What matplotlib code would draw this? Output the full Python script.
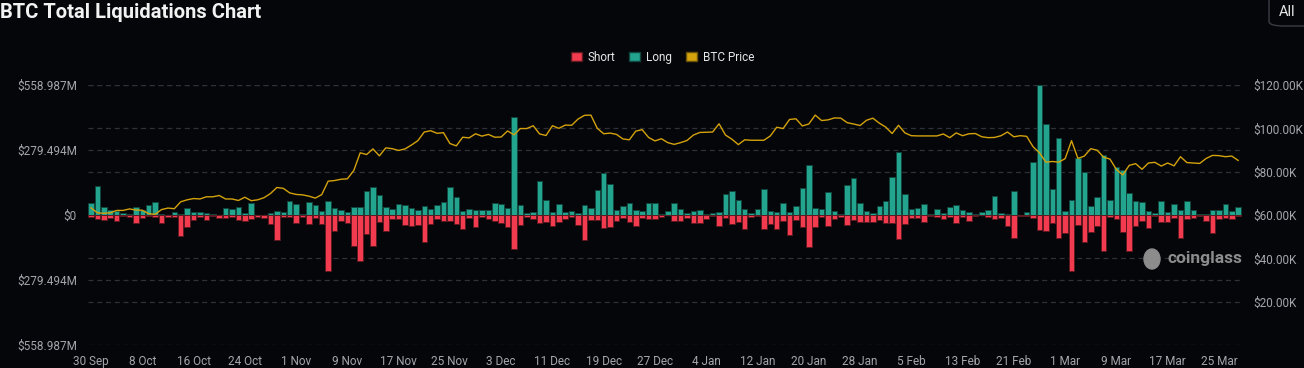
import numpy as np
import pandas as pd
import matplotlib.pyplot as plt
from matplotlib.patches import Patch, FancyBboxPatch, Ellipse

plt.rcParams['font.family'] = ['Roboto', 'DejaVu Sans']

# daily data, 30 Sep 2024 .. 28 Mar 2025
dates = pd.date_range('2024-09-30', periods=180, freq='D')

# long liquidations ($M)
long_liq = [
    53.0, 124.7, 35.8, 21.5, 17.2, 7.2, 2.9, 35.8, 21.5, 41.6,
    55.9, 2.9, 1.0, 14.3, 2.9, 28.7, 11.5, 14.3, 7.2, 2.9,
    1.4, 28.7, 24.4, 33.0, 10.0, 50.2, 1.0, 1.0, 7.2, 18.6,
    14.3, 61.6, 47.3, 5.7, 55.9, 43.0, 18.6, 61.6, 30.1, 21.5,
    12.9, 35.8, 35.8, 103.2, 120.4, 86.0, 33.0, 24.4, 45.9, 41.6,
    30.1, 21.5, 38.7, 27.2, 41.6, 54.5, 119.0, 76.0, 15.8, 24.4,
    20.1, 20.1, 20.1, 50.2, 47.3, 30.1, 420.0, 44.4, 7.2, 12.9,
    144.8, 63.1, 12.9, 45.9, 14.3, 15.8, 7.2, 44.4, 30.1, 107.5,
    182.0, 134.7, 22.9, 40.1, 50.2, 21.5, 17.2, 50.2, 50.2, 4.3,
    18.6, 51.6, 24.4, 10.0, 17.2, 20.1, 4.3, 7.2, 11.5, 88.9,
    104.6, 63.1, 24.4, 7.2, 24.4, 110.4, 17.2, 12.9, 53.0, 14.3,
    38.7, 116.1, 215.0, 28.7, 24.4, 100.3, 18.6, 4.3, 127.6, 160.5,
    50.2, 15.8, 10.0, 40.1, 61.6, 163.4, 270.9, 88.9, 24.4, 28.7,
    45.9, 4.3, 24.4, 7.2, 33.0, 41.6, 20.1, 12.9, 2.9, 12.9,
    21.5, 81.7, 10.0, 4.3, 101.8, 1.4, 11.5, 227.9, 558.987, 391.3,
    111.8, 329.7, 18.6, 64.5, 243.7, 184.9, 38.7, 77.4, 256.6, 64.5,
    205.0, 192.1, 94.6, 60.2, 55.9, 17.2, 7.2, 60.2, 12.9, 47.3,
    20.1, 58.8, 21.5, 4.3, 2.9, 21.5, 21.5, 45.9, 17.2, 35.8,
]

# short liquidations ($M)
short_liq = [
    7.2, 17.2, 21.5, 11.5, 25.8, 2.9, 10.0, 35.8, 11.5, 2.9,
    10.0, 35.8, 8.6, 7.2, 88.9, 50.2, 20.1, 10.0, 21.5, 4.3,
    12.9, 11.5, 10.0, 21.5, 25.8, 18.6, 7.2, 11.5, 38.7, 107.5,
    7.2, 7.2, 33.0, 7.2, 37.3, 12.9, 37.3, 240.8, 70.2, 24.4,
    33.0, 131.9, 196.4, 83.1, 131.9, 30.1, 67.4, 17.2, 17.2, 41.6,
    45.9, 44.4, 114.7, 38.7, 17.2, 24.4, 27.2, 37.3, 61.6, 12.9,
    51.6, 8.6, 18.6, 27.2, 35.8, 50.2, 146.2, 43.0, 7.2, 15.8,
    33.0, 28.7, 45.9, 28.7, 18.6, 10.0, 44.4, 108.9, 22.9, 22.9,
    57.3, 51.6, 25.8, 11.5, 28.7, 47.3, 12.9, 15.8, 18.6, 7.2,
    1.4, 25.8, 24.4, 11.5, 33.0, 33.0, 17.2, 4.3, 47.3, 12.9,
    37.3, 31.5, 58.8, 10.0, 4.3, 58.8, 38.7, 61.6, 24.4, 84.6,
    20.1, 50.2, 139.0, 51.6, 10.0, 48.7, 17.2, 7.2, 41.6, 21.5,
    30.1, 31.5, 30.1, 20.1, 33.0, 33.0, 101.8, 37.3, 12.9, 14.3,
    30.1, 4.3, 8.6, 17.2, 10.0, 34.4, 10.0, 27.2, 2.9, 1.4,
    7.2, 15.8, 12.9, 45.9, 97.5, 5.7, 4.3, 11.5, 65.9, 67.4,
    34.4, 100.3, 76.0, 240.8, 43.0, 114.7, 71.7, 47.3, 154.8, 7.2,
    17.2, 71.7, 154.8, 45.9, 24.4, 57.3, 4.3, 30.1, 31.5, 11.5,
    97.5, 18.6, 11.5, 2.9, 27.2, 76.0, 17.2, 14.3, 15.8, 4.3,
]

# BTC price ($K)
btc_price = [
    63.3,
    61.0, 60.8, 61.0, 62.1, 62.1, 62.8, 62.3, 62.2, 60.6, 60.3,
    62.5, 63.2, 62.9, 66.1, 67.0, 67.6, 67.4, 68.4, 68.4, 69.0,
    67.4, 67.4, 66.7, 68.2, 66.6, 67.0, 68.0, 69.9, 72.7, 72.3, 70.2,
    69.5, 69.3, 68.7, 67.8, 69.4, 75.6, 75.9, 76.5, 76.7, 80.5,
    88.7, 87.9, 90.5, 87.3, 91.0, 90.6, 89.8, 90.5, 92.3, 94.3,
    98.3, 98.9, 97.7, 98.0, 93.0, 91.9, 95.9, 95.6, 97.5, 96.4,
    97.2, 95.9, 96.0, 98.8, 97.0, 99.9, 99.9, 101.2, 97.4, 96.7,
    101.2, 100.0, 101.5, 101.4, 104.3, 106.0, 106.1, 100.0, 97.5, 97.8,
    97.2, 95.1, 94.7, 98.7, 99.4, 95.8, 94.2, 95.2, 93.4, 92.6, 93.4,
    94.4, 96.9, 98.1, 98.2, 98.3, 102.1, 96.9, 95.0, 92.5, 94.7,
    94.5, 94.5, 94.5, 96.5, 100.5, 99.9, 104.1, 104.4, 101.1, 102.0,
    106.1, 103.6, 103.9, 104.8, 104.7, 102.6, 102.0, 101.3, 103.7, 104.7, 102.4,
    100.6, 97.6, 101.4, 97.9, 96.6, 96.5, 96.5, 96.5, 96.5, 97.4,
    95.7, 97.9, 96.6, 97.5, 97.6, 96.1, 95.7, 95.8, 96.6, 98.3,
    96.1, 96.6, 96.3, 91.5, 88.7, 84.4, 84.7, 84.4,
    86.0, 94.3, 86.1, 87.2, 90.6, 89.9, 86.7, 85.8, 81.0, 78.5,
    82.9, 83.7, 81.1, 84.0, 84.3, 82.6, 84.0, 82.7, 86.9, 84.2,
    84.0, 83.8, 86.1, 87.5, 87.4, 86.9, 87.2, 85.2,
]

left_ticks = [-558.987, -279.494, 0, 279.494, 558.987]
right_ticks = [20, 40, 60, 80, 100, 120]

bg = '#05060a'
teal = '#22a48f'
red = '#f23b4f'
gold = '#d4a20c'
grid_c = '#2e3138'
lab_c = '#a3a6ab'

fig = plt.figure(figsize=(13.04, 3.68), dpi=100, facecolor=bg)
ax = fig.add_axes([88/1304, 23/368, 1154/1304, 260/368])
ax.set_facecolor(bg)

x = np.arange(len(dates))
ax.bar(x, long_liq, width=0.86, color=teal, edgecolor='#11463f', linewidth=0.7, zorder=3)
ax.bar(x, -np.array(short_liq), width=0.86, color=red, edgecolor='#5e1820', linewidth=0.7, zorder=3)

ax.set_xlim(-0.47, 179.6)
ax.set_ylim(-558.987, 558.987)

# gridlines for both axes, drawn under the bars
for v in left_ticks:
    ax.axhline(v, color=grid_c, lw=0.9, ls=(0, (4, 3)), zorder=1)
for v in right_ticks:
    ax.axhline(v / 120 * 2 * 558.987 - 558.987, color=grid_c, lw=0.9, ls=(0, (4, 3)), zorder=1)

ax.set_yticks(left_ticks)
ax.set_yticklabels(['$558.987M', '$279.494M', '$0', '$279.494M', '$558.987M'])
ax.set_xticks(x[::8])
ax.set_xticklabels([f"{d.day} {d.strftime('%b')}" for d in dates[::8]])
ax.tick_params(length=0, colors=lab_c, labelsize=8.5)
ax.tick_params(axis='y', pad=8)
ax.tick_params(axis='x', pad=7)
for s in ax.spines.values():
    s.set_visible(False)

ax2 = ax.twinx()
ax2.plot(x, btc_price, color=gold, lw=1.0, zorder=4)
ax2.set_ylim(0, 120)
ax2.set_yticks(right_ticks)
ax2.set_yticklabels([f'${v:.2f}K' for v in right_ticks])
ax2.tick_params(length=0, colors=lab_c, labelsize=8.5, pad=8)
for s in ax2.spines.values():
    s.set_visible(False)

# title
fig.text(0.0, 1 - 12/368, 'BTC Total Liquidations Chart', color='#f2f2f2',
         fontsize=14.5, fontweight='bold', va='center', ha='left')

# legend
handles = [Patch(facecolor=red, edgecolor='#5e1820', label='Short'),
           Patch(facecolor=teal, edgecolor='#11463f', label='Long'),
           Patch(facecolor=gold, edgecolor='#6b520a', label='BTC Price')]
leg = fig.legend(handles=handles, loc='center', bbox_to_anchor=(0.508, 0.845), ncol=3,
                 frameon=False, fontsize=8.5, handlelength=0.9, handleheight=0.9,
                 handletextpad=0.5, columnspacing=1.2)
for t in leg.get_texts():
    t.set_color('#e6e6e6')

# "All" button
fig.patches.append(FancyBboxPatch((1269/1304, 1 - 26/368), 60/1304, 34/368,
                                  boxstyle='round,pad=0,rounding_size=0.012',
                                  transform=fig.transFigure, facecolor=bg,
                                  edgecolor='#3a3d44', lw=1))
fig.text(1287/1304, 1 - 12/368, 'All', color='#e6e6e6', fontsize=10.5, va='center', ha='center')

# watermark
fig.text(1168/1304, 1 - 259/368, 'coinglass', color='#8c8c8c', fontsize=12.5,
         fontweight='bold', va='center', ha='left')
fig.patches.append(Ellipse((1152/1304, 1 - 259/368), 16/1304, 20/368,
                           transform=fig.transFigure, color='#8c8c8c'))

fig.savefig('out.png', dpi=100, facecolor=bg)
